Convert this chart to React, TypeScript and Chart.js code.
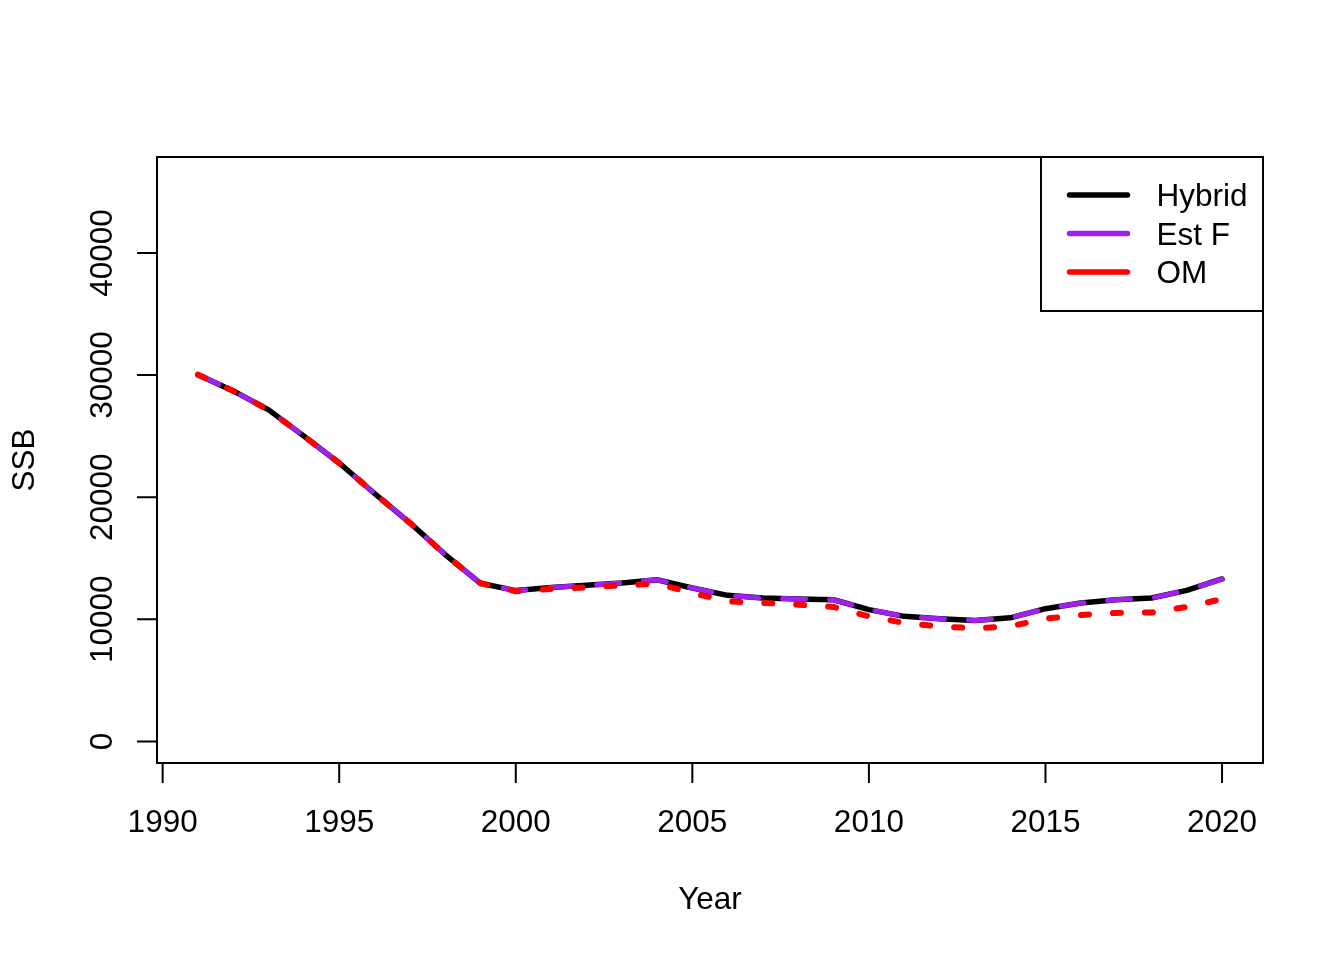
import React, { useEffect, useRef } from "react";
import { Chart, registerables } from "chart.js";

Chart.register(...registerables);

const years = [1991, 1992, 1993, 1994, 1995, 1996, 1997, 1998, 1999, 2000, 2001, 2002, 2003, 2004, 2005, 2006, 2007, 2008, 2009, 2010, 2011, 2012, 2013, 2014, 2015, 2016, 2017, 2018, 2019, 2020];
const hybrid = [30030, 28700, 27150, 25000, 22800, 20300, 17900, 15300, 12950, 12350, 12610, 12780, 12970, 13240, 12560, 11960, 11740, 11660, 11600, 10790, 10240, 10050, 9910, 10120, 10870, 11330, 11600, 11740, 12370, 13300];
const estF = [30030, 28700, 27150, 25000, 22800, 20300, 17900, 15300, 12950, 12350, 12610, 12780, 12970, 13240, 12560, 11960, 11740, 11660, 11600, 10790, 10240, 10050, 9910, 10120, 10870, 11330, 11600, 11740, 12370, 13300];
const om = [30030, 28700, 27150, 25000, 22800, 20300, 17900, 15300, 12950, 12290, 12480, 12610, 12780, 12920, 12150, 11470, 11340, 11200, 11010, 10240, 9700, 9420, 9260, 9420, 10050, 10350, 10520, 10560, 11010, 11650];
const xTicks = [1990, 1995, 2000, 2005, 2010, 2015, 2020];
const yTicks = [0, 10000, 20000, 30000, 40000];
const seriesNames = ["Hybrid", "Est F", "OM"];
const seriesColors = ["#000000", "#A020F0", "#FF0000"];

const FONT = '31.5px "Liberation Sans", Arial, Helvetica, sans-serif';

const rAxesPlugin = {
  id: "rAxes",
  afterDraw(chart: any) {
    const ctx = chart.ctx;
    const { left, right, top, bottom } = chart.chartArea;
    const xs = chart.scales.x;
    const ys = chart.scales.y;
    ctx.save();
    ctx.strokeStyle = "#000";
    ctx.fillStyle = "#000";
    ctx.lineWidth = 2;
    ctx.lineCap = "butt";
    // box
    ctx.strokeRect(left, top, right - left, bottom - top);
    // x axis
    const x0 = xs.getPixelForValue(xTicks[0]);
    const x1 = xs.getPixelForValue(xTicks[xTicks.length - 1]);
    ctx.beginPath();
    ctx.moveTo(x0, bottom);
    ctx.lineTo(x1, bottom);
    xTicks.forEach((t) => {
      const px = xs.getPixelForValue(t);
      ctx.moveTo(px, bottom);
      ctx.lineTo(px, bottom + 20);
    });
    ctx.stroke();
    ctx.font = FONT;
    ctx.textAlign = "center";
    ctx.textBaseline = "alphabetic";
    xTicks.forEach((t) => {
      const px = xs.getPixelForValue(t);
      ctx.fillText(String(t), px, 832);
    });
    // y axis
    const y0 = ys.getPixelForValue(yTicks[0]);
    const y1 = ys.getPixelForValue(yTicks[yTicks.length - 1]);
    ctx.beginPath();
    ctx.moveTo(left, y0);
    ctx.lineTo(left, y1);
    yTicks.forEach((t) => {
      const py = ys.getPixelForValue(t);
      ctx.moveTo(left, py);
      ctx.lineTo(left - 20, py);
    });
    ctx.stroke();
    yTicks.forEach((t) => {
      const py = ys.getPixelForValue(t);
      ctx.save();
      ctx.translate(111.5, py);
      ctx.rotate(-Math.PI / 2);
      ctx.fillText(String(t), 0, 0);
      ctx.restore();
    });
    // axis titles
    ctx.fillText("Year", (left + right) / 2, 909);
    ctx.save();
    ctx.translate(33.5, (top + bottom) / 2);
    ctx.rotate(-Math.PI / 2);
    ctx.fillText("SSB", 0, 0);
    ctx.restore();
    // legend
    const lx = 1041;
    const lt = top;
    ctx.lineWidth = 2;
    ctx.strokeRect(lx, lt, right - lx, 311 - lt);
    const rowY = [195, 233.5, 272];
    seriesNames.forEach((name, i) => {
      ctx.beginPath();
      ctx.strokeStyle = seriesColors[i];
      ctx.lineWidth = 5.5;
      ctx.lineCap = "round";
      ctx.moveTo(1069.5, rowY[i]);
      ctx.lineTo(1127.5, rowY[i]);
      ctx.stroke();
      ctx.textAlign = "left";
      ctx.fillStyle = "#000";
      ctx.fillText(name, 1156.5, rowY[i] + 11);
    });
    ctx.restore();
  },
};

export default function App() {
  const ref = useRef<HTMLCanvasElement | null>(null);
  useEffect(() => {
    if (!ref.current) return;
    const mk = (data: number[]) => years.map((y, i) => ({ x: y, y: data[i] }));
    const chart = new Chart(ref.current, {
      type: "line",
      data: {
        datasets: [
          {
            label: seriesNames[0],
            data: mk(hybrid),
            borderColor: seriesColors[0],
            borderWidth: 5.5,
            pointRadius: 0,
            tension: 0,
            borderCapStyle: "round",
            borderJoinStyle: "round",
            order: 2,
          },
          {
            label: seriesNames[1],
            data: mk(estF),
            borderColor: seriesColors[1],
            borderWidth: 5,
            borderDash: [23, 24],
            pointRadius: 0,
            tension: 0,
            borderCapStyle: "round",
            borderJoinStyle: "round",
            order: 1,
          },
          {
            label: seriesNames[2],
            data: mk(om),
            borderColor: seriesColors[2],
            borderWidth: 6,
            borderDash: [8, 24],
            pointRadius: 0,
            tension: 0,
            borderCapStyle: "round",
            borderJoinStyle: "round",
            order: 0,
          },
        ],
      },
      options: {
        responsive: false,
        animation: false,
        layout: { padding: { left: 157, top: 157, right: 81, bottom: 197 } },
        plugins: { legend: { display: false }, tooltip: { enabled: false } },
        scales: {
          x: { type: "linear", display: false, min: 1989.84, max: 2021.16 },
          y: { type: "linear", display: false, min: -1770, max: 47860 },
        },
      },
      plugins: [rAxesPlugin],
    });
    return () => chart.destroy();
  }, []);
  return (
    <div style={{ position: "absolute", left: 0, top: 0, width: 1344, height: 960, background: "#fff" }}>
      <canvas ref={ref} width={1344} height={960} style={{ display: "block" }} />
    </div>
  );
}
